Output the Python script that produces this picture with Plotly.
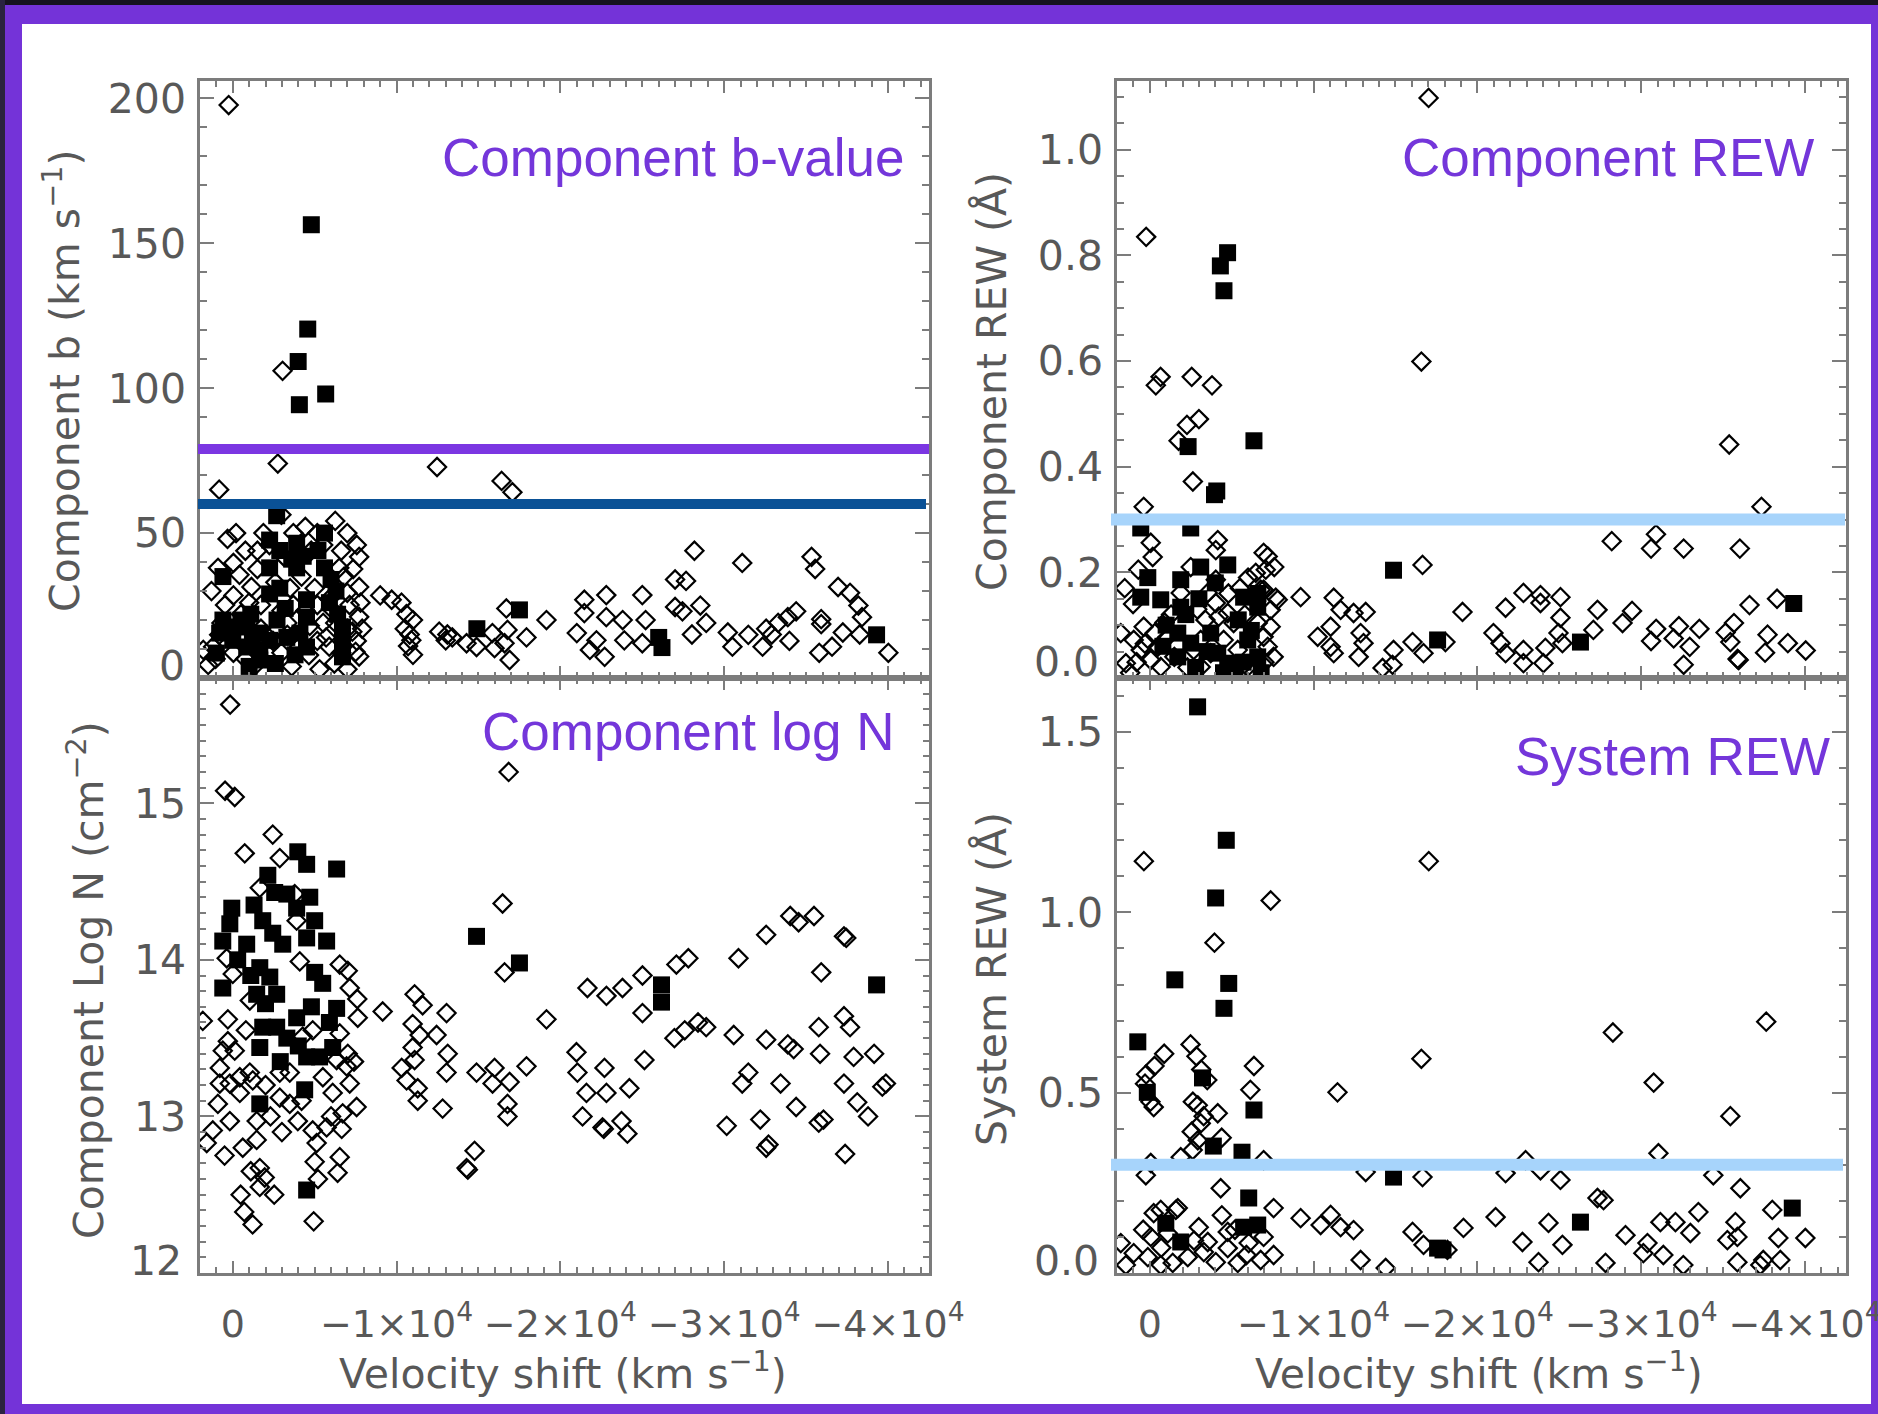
import plotly.graph_objects as go

W, H = 1878, 1414

# ---------------- data: (velocity shift [km/s], value) ----------------
# Component Doppler b-values (km/s)
b_open = [
    (1200, 10.8), (690, 19), (830, 14.9), (320, 48), (-40, 39.7), (-410, 35.6), (-40, 28.5),
    (470, 25.2), (-770, 43.9), (-1140, 31.4), (-1505, 37.6), (-1720, 25.2), (-2240, 45.9),
    (-2970, 56.3), (-3700, 50), (-4430, 52.1), (-5160, 50), (-6255, 54.2), (-6990, 50),
    (-7570, 45.9), (-6620, 43.9), (-7350, 37.6), (-7715, 31.4), (-7130, 25.2), (-7715, 21.1),
    (-6990, 17), (-7570, 12.8), (-6620, 8.7), (-7715, 7.4), (-5890, 10.8), (-5160, 12.8),
    (-4650, 7.9), (-4060, 10.8), (-3330, 14.9), (-2970, 8.7), (-2455, 12.8), (-1720, 17),
    (-1140, 10.8), (-770, 6.6), (-40, 8.7), (1050, 6.6), (-5890, 27.3), (-5160, 25.2),
    (-4430, 23.2), (-3700, 25.2), (-2970, 23.2), (-3330, 19), (-5520, 19), (-6255, 19),
    (-6990, 29.4), (-7715, 41.8), (-5520, 45.9), (-4790, 43.9), (-1870, 50), (-1505, 43.9),
    (1800, 9.7), (1500, 4.5),
    (-500, 22), (-1000, 26), (-2600, 33), (-3100, 42), (-4200, 35), (-5000, 31), (-6000, 24),
    (-6500, 38), (-7300, 16), (-7800, 26), (-1300, 4), (-2000, 15), (-3600, 4), (-5300, 3),
    (-6200, 5), (-7000, 3), (1300, 30), (900, 38), (-200, 50), (-3500, 31), (-4700, 18),
    (-5700, 14), (-6800, 35), (-7500, 9), (-7900, 17),
    (250, 197.7), (-3040, 106), (-2750, 74), (830, 65), (-12470, 72.8), (-16410, 68), (-17070, 64.1),
    (-9000, 28.5), (-9700, 27), (-10300, 26), (-10600, 22), (-11000, 20), (-10800, 15),
    (-10700, 11), (-11000, 8), (-10500, 17), (-10900, 13), (-12600, 16), (-13100, 15),
    (-13400, 14), (-13000, 13),
    (-14270, 12), (-15850, 15.5), (-16770, 16.6), (-16590, 12), (-15980, 10.3), (-16900, 6.2),
    (-16700, 24), (-17930, 14), (-19150, 20), (-14880, 10.7),
    (-21000, 15.5), (-21460, 27), (-21460, 22.4), (-22800, 28.6), (-22800, 21), (-22700, 7.3),
    (-23800, 20), (-23900, 13), (-25000, 28.6), (-25200, 20), (-25000, 12), (-27000, 34),
    (-27000, 24.5), (-22200, 13), (-21800, 9.7),
    (-28180, 43.9), (-27670, 33.5), (-27450, 23), (-28540, 25), (-28900, 19), (-28030, 15),
    (-31100, 39.7), (-30220, 15.7), (-30500, 10.8), (-31470, 14.9), (-32560, 17), (-33290, 19),
    (-33880, 21), (-34390, 23), (-32340, 10.8), (-32900, 15), (-33980, 12.8), (-35800, 8.7),
    (-35330, 41.8), (-35550, 37.6), (-35920, 20.3), (-35920, 18.6), (-36950, 31.4),
    (-37680, 29.4), (-38190, 25), (-38410, 21), (-38270, 15), (-40020, 8.7), (-37240, 15.7),
    (-36580, 10.8),
]
b_filled = [
    (-4795, 156.4), (-4577, 120.4), (-3992, 109.2), (-4065, 94.3), (-5672, 98.0), (-2680, 56),
    (600, 35), (-5600, 50), (-2250, 47.6), (-2870, 44), (-3900, 46.5), (-3900, 38), (-2250, 38),
    (-2250, 29), (-2870, 31), (-5600, 38), (-6000, 34), (-6300, 30), (-4500, 27), (-4500, 21),
    (600, 20), (0, 17.6), (800, 15.5), (0, 13), (-850, 17.6), (-1650, 15.5), (-1650, 9.7),
    (-1650, 6.2), (-2250, 13), (-3300, 14), (-4100, 15.5), (-4500, 10.7), (-6700, 17.6),
    (-6700, 12), (-6700, 7.3), (1000, 8.6), (-850, 10.7),
    (-500, 20), (-1200, 14), (-1100, 22), (-2700, 20), (-3200, 24), (-3600, 41), (-4300, 42),
    (-5200, 44), (-5900, 26), (-6400, 22), (-2600, 5), (-3800, 8), (-1000, 4),
    (-14900, 17), (-17500, 23.5), (-26000, 14), (-26200, 10.5), (-39300, 14.9),
]

# Component column densities (log N, cm^-2)
logn_open = [
    (160, 15.63), (470, 15.08), (-120, 15.04), (-2440, 14.80), (-730, 14.68), (-2870, 14.65),
    (-1650, 14.46), (-3780, 14.42), (-3900, 14.25), (370, 14.01), (0, 13.91), (-4090, 13.99),
    (-6530, 13.97), (-7020, 13.93), (-7140, 13.82), (-7630, 13.63), (300, 13.62), (1830, 13.61),
    (-1040, 13.74), (300, 13.48), (-120, 13.42), (790, 13.31), (-430, 13.25), (790, 13.21),
    (-1220, 13.23), (-2870, 13.28), (-3480, 13.28), (-2870, 13.12), (-3480, 13.08), (-430, 13.15),
    (910, 13.08), (180, 12.97), (1220, 12.91), (1590, 12.83), (-610, 12.80), (-1460, 12.85),
    (-1460, 12.97), (-3970, 12.97), (-4880, 12.91), (-5730, 12.93), (-5120, 12.83), (-5000, 12.71),
    (-6650, 12.92), (-6530, 12.74), (-6400, 12.64), (-1650, 12.67), (-1950, 12.61),
    (-6100, 13.15), (-7140, 13.21), (-7560, 13.06), (-6710, 13.02), (-6950, 13.32), (-7020, 13.40),
    (-6340, 13.36), (-4880, 13.55), (-4270, 13.51), (610, 13.42), (180, 13.21), (-1040, 13.28),
    (-6530, 13.53), (-480, 12.50), (-700, 12.39), (-1210, 12.31), (-2530, 12.50), (-4940, 12.33),
    (-1650, 12.55),
    (-2000, 13.2), (-3000, 12.9), (-4200, 13.1), (-5500, 13.25), (-6000, 13.0), (-5200, 12.6),
    (-7400, 13.35), (-7600, 13.75), (-800, 13.55), (-2300, 13.0), (500, 12.75), (-1100, 12.65),
    (-9150, 13.67), (-11100, 13.78), (-11590, 13.71), (-10980, 13.59), (-11410, 13.52),
    (-10980, 13.44), (-10310, 13.31), (-11100, 13.36), (-10610, 13.23), (-11290, 13.18),
    (-11290, 13.10), (-12440, 13.52), (-13050, 13.66), (-13120, 13.40), (-13050, 13.28),
    (-12810, 13.05), (-14760, 12.78), (-14270, 12.67), (-14350, 12.66), (-14880, 13.28),
    (-15980, 13.31), (-15860, 13.21), (-16900, 13.22), (-16770, 13.08), (-16770, 13.0),
    (-17930, 13.32), (-19150, 13.62), (-16470, 14.36), (-16590, 13.92), (-16840, 15.2),
    (-21650, 13.82), (-22810, 13.77), (-23790, 13.82), (-25010, 13.90), (-25010, 13.66),
    (-20980, 13.41), (-21040, 13.28), (-22690, 13.31), (-21590, 13.15), (-22810, 13.15),
    (-24210, 13.18), (-21350, 13.0), (-22570, 12.93), (-22650, 12.92), (-23730, 12.97),
    (-24090, 12.89), (-25130, 13.36), (-26960, 13.50), (-27080, 13.97),
    (-27810, 14.01), (-27590, 13.55), (-28900, 13.57), (-28400, 13.60), (-30580, 13.52),
    (-30870, 14.01), (-31470, 13.28), (-31100, 13.21), (-32200, 12.98), (-32560, 13.49),
    (-33440, 13.21), (-33880, 13.46), (-34240, 13.43), (-34390, 13.06), (-32560, 12.80),
    (-32700, 12.82), (-30150, 12.94), (-32560, 14.16), (-34030, 14.28), (-34540, 14.24),
    (-35480, 14.28), (-35920, 13.92), (-37310, 14.15), (-37450, 14.14), (-35770, 13.57),
    (-35850, 13.40), (-37310, 13.64), (-37680, 13.57), (-37900, 13.38), (-37310, 13.21),
    (-36060, 12.98), (-35770, 12.96), (-38120, 13.09), (-38780, 13.0), (-39150, 13.40),
    (-37380, 12.76), (-39870, 13.21), (-39650, 13.19),
]
logn_filled = [
    (-3970, 14.69), (-4510, 14.61), (-6340, 14.58), (-2140, 14.54), (-2560, 14.43), (-4700, 14.40),
    (-3900, 14.33), (60, 14.33), (180, 14.23), (610, 14.12), (-850, 14.10), (-1830, 14.25),
    (-2440, 14.17), (-3050, 14.10), (-4510, 14.14), (-5730, 14.12), (-1650, 13.95), (-2260, 13.89),
    (610, 13.82), (-1460, 13.78), (-2680, 13.78), (-5490, 13.85), (-6340, 13.69), (-3900, 13.63),
    (-1830, 13.57), (-2680, 13.57), (-1650, 13.44), (-6100, 13.44), (-4510, 13.38), (-5300, 13.38),
    (-4390, 13.17), (-1650, 13.08), (-4510, 12.53),
    (-300, 14.0), (-1100, 13.9), (-2000, 13.72), (-3300, 13.5), (-4000, 13.45), (-5000, 13.92),
    (-5900, 13.6), (-3300, 14.42), (-1300, 14.35), (-5000, 14.25), (-2900, 13.35), (-4800, 13.7),
    (-14880, 14.15), (-17500, 13.98), (-26170, 13.84), (-26170, 13.73), (-39300, 13.84),
]

# Component rest-frame equivalent widths (Angstrom)
rew_open = [
    (220, 0.835), (-17020, 1.098), (-16580, 0.599), (-660, 0.57), (-370, 0.554), (-2560, 0.57),
    (-3800, 0.554), (-2270, 0.479), (-3000, 0.49), (-2630, 0.372), (-1760, 0.449), (370, 0.324),
    (-60, 0.256), (-180, 0.229), (-4150, 0.261), (-4030, 0.242), (-6950, 0.237), (-6470, 0.199),
    (-7080, 0.205), (-6770, 0.167), (-7690, 0.152), (-9210, 0.153), (-11230, 0.152),
    (-11650, 0.129), (-12440, 0.123), (-13180, 0.125), (-10250, 0.078), (-11040, 0.097),
    (-11040, 0.059), (-11230, 0.047), (-12870, 0.085), (-13050, 0.066), (-12750, 0.04),
    (-14210, 0.019), (-14880, 0.053), (-14820, 0.025), (-16040, 0.068), (-16710, 0.047),
    (-16650, 0.214), (-19090, 0.125), (-18050, 0.068), (-21720, 0.133), (-22810, 0.161),
    (-23850, 0.157), (-23850, 0.142), (-25070, 0.153), (-20980, 0.085), (-21410, 0.066),
    (-21720, 0.047), (-22810, 0.053), (-22810, 0.028), (-24150, 0.057), (-24030, 0.028),
    (-25070, 0.114), (-24950, 0.085), (-25190, 0.066), (-27080, 0.091), (-27330, 0.129),
    (1770, 0.085), (1460, 0.028), (980, 0.072), (550, 0.053), (-60, 0.034), (370, 0.097),
    (-490, 0.059), (-670, 0.021), (-1100, 0.078), (-1890, 0.161), (-2500, 0.21), (-2680, 0.053),
    (-3110, 0.072), (-3110, 0.021), (-3540, 0.161), (-4030, 0.186), (-4030, 0.142), (-4210, 0.116),
    (-4760, 0.123), (-5120, 0.104), (-4510, 0.072), (-3720, 0.047), (-5370, 0.053), (-5980, 0.021),
    (-6340, 0.009), (-6590, 0.104), (-6950, 0.078), (-7200, 0.059), (-7560, 0.04), (-7380, 0.097),
    (-7380, 0.129), (-7810, 0.148), (-6950, 0.167), (1530, 0.17), (1020, 0.14), (700, 0.205),
    (-1300, 0.12), (-900, 0.105), (-2900, 0.13), (-5500, 0.17), (-6000, 0.19),
    (1200, 0.01), (800, 0.03), (300, 0.065), (-300, 0.085), (-1500, 0.04), (-2300, 0.02),
    (-3400, 0.11), (-4800, 0.16), (-5800, 0.12), (-7000, 0.03), (-7600, 0.21), (-7200, 0.23),
    (-28200, 0.259), (-29440, 0.127), (-30900, 0.272), (-30600, 0.245), (-28860, 0.104),
    (-30910, 0.093), (-30600, 0.07), (-31980, 0.075), (-32300, 0.098), (-32590, 0.245),
    (-32960, 0.059), (-33550, 0.093), (-32590, 0.025), (-35370, 0.442), (-36020, 0.245),
    (-35660, 0.104), (-35880, 0.036), (-35950, 0.034), (-37710, 0.082), (-37340, 0.324),
    (-37560, 0.048), (-38290, 0.15), (-38950, 0.066), (-40040, 0.052), (-36610, 0.138),
    (-35150, 0.086), (-35440, 0.068),
]
rew_filled = [
    (-4310, 0.78), (-4750, 0.805), (-4530, 0.733), (-2340, 0.438), (-6360, 0.449), (-4090, 0.354),
    (-3950, 0.347), (550, 0.284), (-2500, 0.284), (120, 0.19), (550, 0.153), (-1890, 0.186),
    (-3110, 0.21), (-4760, 0.214), (-5730, 0.153), (-6590, 0.134), (-1890, 0.134), (-1710, 0.085),
    (-1710, 0.04), (-2500, 0.066), (-4150, 0.047), (-4760, 0.028), (-5980, 0.072), (-6590, 0.04),
    (-670, 0.148), (-3720, 0.085), (-4500, 0.01), (-5200, 0.015),
    (-1000, 0.1), (-2200, 0.12), (-3000, 0.15), (-3500, 0.05), (-4000, 0.18), (-5400, 0.11),
    (-6200, 0.09), (-800, 0.06), (-2800, 0.02), (-5700, 0.03), (-6600, 0.16), (-6800, 0.01),
    (-14880, 0.204), (-17570, 0.072), (-26290, 0.068), (-39310, 0.141),
]

# Total system rest-frame equivalent widths (Angstrom)
sys_open = [
    (360, 1.142), (-17030, 1.142), (-7380, 1.033), (-3950, 0.916), (220, 0.551), (-290, 0.574),
    (-880, 0.608), (-2490, 0.634), (-2850, 0.601), (-3140, 0.564), (-3510, 0.535), (-2630, 0.475),
    (-3290, 0.435), (-2560, 0.392), (-4390, 0.375), (-6140, 0.508), (-6360, 0.574), (-40, 0.475),
    (290, 0.525), (-11460, 0.501), (-16580, 0.594), (-28270, 0.667), (-30760, 0.528),
    (-35440, 0.435), (-37630, 0.697),
    (-240, 0.46), (-2930, 0.465), (-4150, 0.443), (-3110, 0.415), (-2930, 0.368), (-2620, 0.341),
    (-1890, 0.321), (240, 0.271), (-60, 0.305), (-6950, 0.313), (-4330, 0.235), (-13180, 0.28),
    (-16650, 0.266), (-21720, 0.277), (-22940, 0.313), (-23850, 0.285), (-25070, 0.258),
    (-670, 0.175), (-1710, 0.18), (-7560, 0.18), (-9210, 0.152), (-10430, 0.133), (-11040, 0.161),
    (-11650, 0.127), (-12440, 0.119), (-2990, 0.127), (-4760, 0.114), (-3540, 0.086),
    (-4760, 0.069), (-6040, 0.083), (-6950, 0.1), (-7560, 0.05), (-6770, 0.036), (-5370, 0.028),
    (-4030, 0.03), (-3300, 0.058), (-2320, 0.044), (-1400, 0.028), (-670, 0.022), (120, 0.044),
    (-60, 0.1), (980, 0.055), (1770, 0.083), (1460, 0.022), (-240, 0.166), (-1590, 0.175),
    (-5200, 0.12), (-5900, 0.05), (-4400, 0.16), (-2700, 0.09), (-700, 0.07), (400, 0.12),
    (-1100, 0.11),
    (-12870, 0.036), (-14400, 0.014), (-16040, 0.114), (-16710, 0.078), (-18170, 0.064),
    (-19150, 0.125), (-21110, 0.155), (-22750, 0.086), (-23730, 0.03), (-24340, 0.139),
    (-25190, 0.078), (-27330, 0.208),
    (-31050, 0.332), (-34400, 0.271), (-36050, 0.235), (-38000, 0.175), (-27700, 0.202),
    (-29040, 0.105), (-31170, 0.141), (-32090, 0.141), (-33490, 0.169), (-33000, 0.111),
    (-30380, 0.083), (-30130, 0.055), (-31350, 0.05), (-32570, 0.022), (-27820, 0.028),
    (-35750, 0.141), (-35260, 0.091), (-35870, 0.1), (-35870, 0.03), (-37270, 0.022),
    (-37450, 0.036), (-38490, 0.036), (-38370, 0.097), (-40020, 0.097),
]
sys_filled = [
    (-2920, 1.57), (-4670, 1.20), (-4020, 1.04), (-4820, 0.803), (-4530, 0.734), (-1530, 0.813),
    (730, 0.641), (150, 0.501), (-3220, 0.541), (-6360, 0.452), (-3880, 0.352), (-5630, 0.335),
    (-6040, 0.208), (-980, 0.138), (-1890, 0.086), (-5730, 0.127), (-6590, 0.133),
    (-14880, 0.266), (-17570, 0.069), (-17900, 0.064), (-26290, 0.141), (-39220, 0.18),
]

# Reference thresholds drawn as horizontal bars
b_cut_high = 79      # km/s
b_cut_low = 60       # km/s
rew_cut = 0.3        # Angstrom
sys_cut = 0.3        # Angstrom

vel_ticks = [0, -10000, -20000, -30000, -40000]
vel_ticklabels = ["0", "\u22121\u00d710<sup>4</sup>", "\u22122\u00d710<sup>4</sup>",
                  "\u22123\u00d710<sup>4</sup>", "\u22124\u00d710<sup>4</sup>"]

# ---------------- styling ----------------
AX = "#7c7c7c"
TXT = "#585858"
FONT = "DejaVu Sans"
FS = 41
PURPLE = "#7436DA"
VEL_RANGE = [2000, -42500]

# panel rectangles in page pixels: (left, right, top, bottom)
LEFT = (200, 929)
RIGHT = (1117, 1846)
TOP = (81, 678)
BOTTOM = (678, 1273)


def xdom(c):
    return [c[0] / W, c[1] / W]


def ydom(r):
    return [1 - r[1] / H, 1 - r[0] / H]


def px(x):
    return x / W


def py(y):
    return 1 - y / H


def base_axis(**kw):
    d = dict(showline=True, linecolor=AX, linewidth=2.5, mirror="allticks",
             ticks="inside", tickcolor=AX, tickwidth=2, showgrid=False, zeroline=False,
             automargin=False, tickfont=dict(family=FONT, size=FS, color=TXT))
    d.update(kw)
    return d


def vel_axis(dom, anchor, labels):
    return base_axis(domain=xdom(dom), anchor=anchor, range=VEL_RANGE,
                     tickmode="array", tickvals=vel_ticks, ticktext=vel_ticklabels,
                     showticklabels=labels, tickangle=0, ticklen=12, ticklabelstandoff=16,
                     ticklabeloverflow="allow",
                     tickfont=dict(family=FONT, size=38, color=TXT),
                     minor=dict(ticks="inside", dtick=1000, tick0=0, ticklen=6,
                                tickcolor=AX, tickwidth=2))


def val_axis(dom, anchor, rng, vals, texts, minor_dtick, minor_len=7):
    return base_axis(domain=ydom(dom), anchor=anchor, range=rng, tickmode="array",
                     tickvals=vals, ticktext=texts, ticklen=14, ticklabelstandoff=3,
                     minor=dict(ticks="inside", dtick=minor_dtick, tick0=0, ticklen=minor_len,
                                tickcolor=AX, tickwidth=2))


fig = go.Figure()


def add_points(pts_open, pts_filled, xa, ya):
    fig.add_trace(go.Scatter(
        x=[p[0] for p in pts_open], y=[p[1] for p in pts_open], mode="markers",
        xaxis=xa, yaxis=ya, showlegend=False,
        marker=dict(symbol="diamond-open", size=14, color="black", line=dict(width=2.2, color="black"))))
    fig.add_trace(go.Scatter(
        x=[p[0] for p in pts_filled], y=[p[1] for p in pts_filled], mode="markers",
        xaxis=xa, yaxis=ya, showlegend=False,
        marker=dict(symbol="square", size=17, color="black", line=dict(width=0))))


add_points(b_open, b_filled, "x", "y")
add_points(rew_open, rew_filled, "x2", "y2")
add_points(logn_open, logn_filled, "x3", "y3")
add_points(sys_open, sys_filled, "x4", "y4")

layout = dict(
    width=W, height=H, margin=dict(l=0, r=0, t=0, b=0, pad=0, autoexpand=False),
    paper_bgcolor="#7433D8", plot_bgcolor="rgba(0,0,0,0)",
    xaxis=vel_axis(LEFT, "y", False),
    xaxis2=vel_axis(RIGHT, "y2", False),
    xaxis3=vel_axis(LEFT, "y3", True),
    xaxis4=vel_axis(RIGHT, "y4", True),
    yaxis=val_axis(TOP, "x", [0, 206], [50, 100, 150, 200], ["50", "100", "150", "200"], 10),
    yaxis2=val_axis(TOP, "x2", [0, 1.13], [0.2, 0.4, 0.6, 0.8, 1.0],
                    ["0.2", "0.4", "0.6", "0.8", "1.0"], 0.05),
    yaxis3=val_axis(BOTTOM, "x3", [12, 15.8], [13, 14, 15], ["13", "14", "15"], 0.1, 6),
    yaxis4=val_axis(BOTTOM, "x4", [0, 1.65], [0.5, 1.0, 1.5], ["0.5", "1.0", "1.5"], 0.1),
)
fig.update_layout(**layout)

# page background: white card inside a purple border
shapes = [
    dict(type="rect", xref="paper", yref="paper", x0=0, x1=1, y0=py(5), y1=1,
         fillcolor="#16131f", line=dict(width=0), layer="below"),
    dict(type="rect", xref="paper", yref="paper", x0=0, x1=px(5), y0=0, y1=1,
         fillcolor="#2a2340", line=dict(width=0), layer="below"),
    dict(type="rect", xref="paper", yref="paper", x0=px(22), x1=px(1871), y0=py(1404), y1=py(24),
         fillcolor="white", line=dict(width=0), layer="below"),
]

# threshold bars
shapes += [
    dict(type="line", xref="paper", yref="y", x0=px(198), x1=px(929), y0=b_cut_high, y1=b_cut_high,
         line=dict(color="#7B36E2", width=10), layer="above"),
    dict(type="line", xref="paper", yref="y", x0=px(198), x1=px(926), y0=b_cut_low, y1=b_cut_low,
         line=dict(color="#0A5196", width=10), layer="above"),
    dict(type="line", xref="paper", yref="y2", x0=px(1111), x1=px(1845), y0=rew_cut, y1=rew_cut,
         line=dict(color="#A7D4FB", width=12), layer="above"),
    dict(type="line", xref="paper", yref="y4", x0=px(1111), x1=px(1843), y0=sys_cut, y1=sys_cut,
         line=dict(color="#A7D4FB", width=12), layer="above"),
]
fig.update_layout(shapes=shapes)

ann = []
# panel captions
for text, xr, yc in [("Component b-value", 907, 157), ("Component REW", 1816, 157),
                     ("Component log N", 896, 731), ("System REW", 1832, 756)]:
    ann.append(dict(text=text, x=px(xr), y=py(yc), xref="paper", yref="paper",
                    xanchor="right", yanchor="middle", showarrow=False,
                    font=dict(family="Liberation Sans", size=53, color=PURPLE)))

# axis titles
axis_font = dict(family=FONT, size=FS, color=TXT)
for text, xc, yc in [("Component b (km s<sup>\u22121</sup>)", 62, 381),
                     ("Component Log N (cm<sup>\u22122</sup>)", 86, 980),
                     ("Component REW (\u00c5)", 992, 382),
                     ("System REW (\u00c5)", 992, 979)]:
    ann.append(dict(text=text, x=px(xc), y=py(yc), xref="paper", yref="paper",
                    xanchor="center", yanchor="middle", textangle=-90, showarrow=False,
                    font=axis_font))
for xc in (563, 1479):
    ann.append(dict(text="Velocity shift (km s<sup>\u22121</sup>)", x=px(xc), y=py(1371),
                    xref="paper", yref="paper", xanchor="center", yanchor="middle",
                    showarrow=False, font=axis_font))

# lowest value labels sit slightly above the panel floor
for text, xr, yc in [("0", 187, 666), ("0.0", 1101, 662), ("12", 184, 1261), ("0.0", 1101, 1261)]:
    ann.append(dict(text=text, x=px(xr), y=py(yc), xref="paper", yref="paper",
                    xanchor="right", yanchor="middle", showarrow=False, font=axis_font))

fig.update_layout(annotations=ann)

fig.write_html("out.html")
